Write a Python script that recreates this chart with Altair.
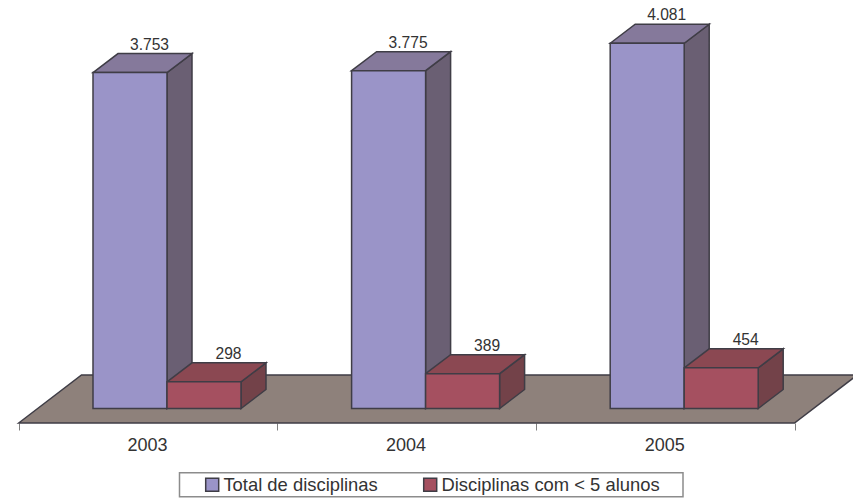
import altair as alt
import pandas as pd

years = ["2003", "2004", "2005"]
series = ["Total de disciplinas", "Disciplinas com < 5 alunos"]
total = [3753, 3775, 4081]
small = [298, 389, 454]
total_labels = ["3.753", "3.775", "4.081"]
small_labels = ["298", "389", "454"]

FONT = "Liberation Sans"
W, H = 845, 415
PX_X = 258.6          # pixels per category
PX_Y = 0.0895         # pixels per value unit
X0_PX = 10.7          # chart x of category edge 0
BASE_PX = 400.5       # chart y of value 0

xs = alt.Scale(domain=[-X0_PX / PX_X, (W - X0_PX) / PX_X])
ys = alt.Scale(domain=[-(H - BASE_PX) / PX_Y, BASE_PX / PX_Y])
X = alt.X("x:Q", scale=xs, axis=None)
Y = alt.Y("y:Q", scale=ys, axis=None)
Y2 = alt.Y2("y2:Q")

dx, dy = 25 / PX_X, 19 / PX_Y
fx, fy = 62.8 / PX_X, 48 / PX_Y
floor_low = -(H - BASE_PX) / PX_Y
bar_w = 74 / PX_X
gap = (93 - 18.7) / PX_X
lab_total = 19.5 / PX_X
lab_small = 24.5 / PX_X


def side(key, l, v):
    r = l + bar_w
    return [dict(k=key, x=r, y=v, y2=0), dict(k=key, x=r + dx, y=v + dy, y2=dy)]


def top(key, l, v):
    r = l + bar_w
    return [
        dict(k=key, x=l, y=v, y2=v),
        dict(k=key, x=l + dx, y=v + dy, y2=v),
        dict(k=key, x=r, y=v + dy, y2=v),
        dict(k=key, x=r + dx, y=v + dy, y2=v + dy),
    ]


rows = {"tside": [], "ttop": [], "sside": [], "stop": [], "front": [], "lab": []}
for i, y in enumerate(years):
    a = i + gap
    b = a + bar_w
    rows["tside"] += side(y, a, total[i])
    rows["ttop"] += top(y, a, total[i])
    rows["sside"] += side(y, b, small[i])
    rows["stop"] += top(y, b, small[i])
    rows["front"] += [
        dict(x=a, x2=b, y=total[i], y2=0, s=series[0]),
        dict(x=b, x2=b + bar_w, y=small[i], y2=0, s=series[1]),
    ]
    rows["lab"] += [
        dict(x=a + bar_w / 2 + lab_total, y=total[i] + dy, t=total_labels[i]),
        dict(x=b + bar_w / 2 + lab_small, y=small[i] + dy, t=small_labels[i]),
    ]

floor_rows = [
    dict(k="f", x=0, y=floor_low, y2=floor_low),
    dict(k="f", x=fx, y=floor_low + fy, y2=floor_low),
    dict(k="f", x=3, y=floor_low + fy, y2=floor_low),
    dict(k="f", x=3 + fx, y=floor_low + fy, y2=floor_low + fy),
]

EDGE = "#3f3d46"


def face(data, fill, sw=1.5):
    return (
        alt.Chart(pd.DataFrame(data))
        .mark_area(fill=fill, stroke=EDGE, strokeWidth=sw, opacity=1, clip=False)
        .encode(x=X, y=Y, y2=Y2, detail="k:N")
    )


floor = face(floor_rows, "#8e817b")

front = (
    alt.Chart(pd.DataFrame(rows["front"]))
    .mark_rect(stroke=EDGE, strokeWidth=1.5)
    .encode(
        x=X,
        x2="x2:Q",
        y=Y,
        y2=Y2,
        color=alt.Color(
            "s:N",
            scale=alt.Scale(domain=series, range=["#9a94c8", "#a55060"]),
            legend=alt.Legend(
                title=None,
                orient="none",
                legendX=195,
                legendY=467.5,
                direction="horizontal",
                columns=2,
                columnPadding=42,
                symbolType="square",
                symbolSize=169,
                symbolStrokeWidth=1.5,
                symbolStrokeColor=EDGE,
                labelFont=FONT,
                labelFontSize=18.4,
                labelColor="#333333",
                labelLimit=400,
                labelOffset=2,
                padding=0,
            ),
        ),
    )
)

labels = (
    alt.Chart(pd.DataFrame(rows["lab"]))
    .mark_text(font=FONT, fontSize=15.6, color="#333333", baseline="alphabetic", dy=-4)
    .encode(x=X, y=Y, text="t:N")
)

legend_box = (
    alt.Chart(pd.DataFrame({"a": [0]}))
    .mark_rect(fill="white", stroke="#8c8c8c", strokeWidth=1.5, clip=False)
    .encode(
        x=alt.value(171.5),
        x2=alt.value(675),
        y=alt.value(464.7),
        y2=alt.value(488.7),
    )
)

axis_layer = (
    alt.Chart(pd.DataFrame({"year": years}))
    .mark_tick(opacity=0)
    .encode(
        x=alt.X(
            "year:N",
            scale=alt.Scale(domain=years, range=[X0_PX, X0_PX + 3 * PX_X], paddingInner=0, paddingOuter=0),
            axis=alt.Axis(
                orient="bottom",
                title=None,
                labelAngle=0,
                labelOffset=-1,
                tickBand="extent",
                domain=False,
                tickColor="#808080",
                tickSize=7,
                tickWidth=1,
                labelFont=FONT,
                labelFontSize=18,
                labelColor="#333333",
                labelPadding=6,
            ),
        )
    )
)

chart = (
    alt.layer(
        axis_layer,
        floor,
        face(rows["tside"], "#6a5f73"),
        face(rows["ttop"], "#85799b"),
        face(rows["sside"], "#734249"),
        face(rows["stop"], "#8b4852"),
        legend_box,
        front,
        labels,
    )
    .resolve_scale(x="independent")
    .properties(
        width=W,
        height=H,
        padding={"left": 0, "top": 0, "right": 0, "bottom": 76},
        autosize=alt.AutoSizeParams(type="none"),
    )
    .configure_view(stroke=None)
)

chart.save("out.html", embed_options={"renderer": "svg", "actions": False})
